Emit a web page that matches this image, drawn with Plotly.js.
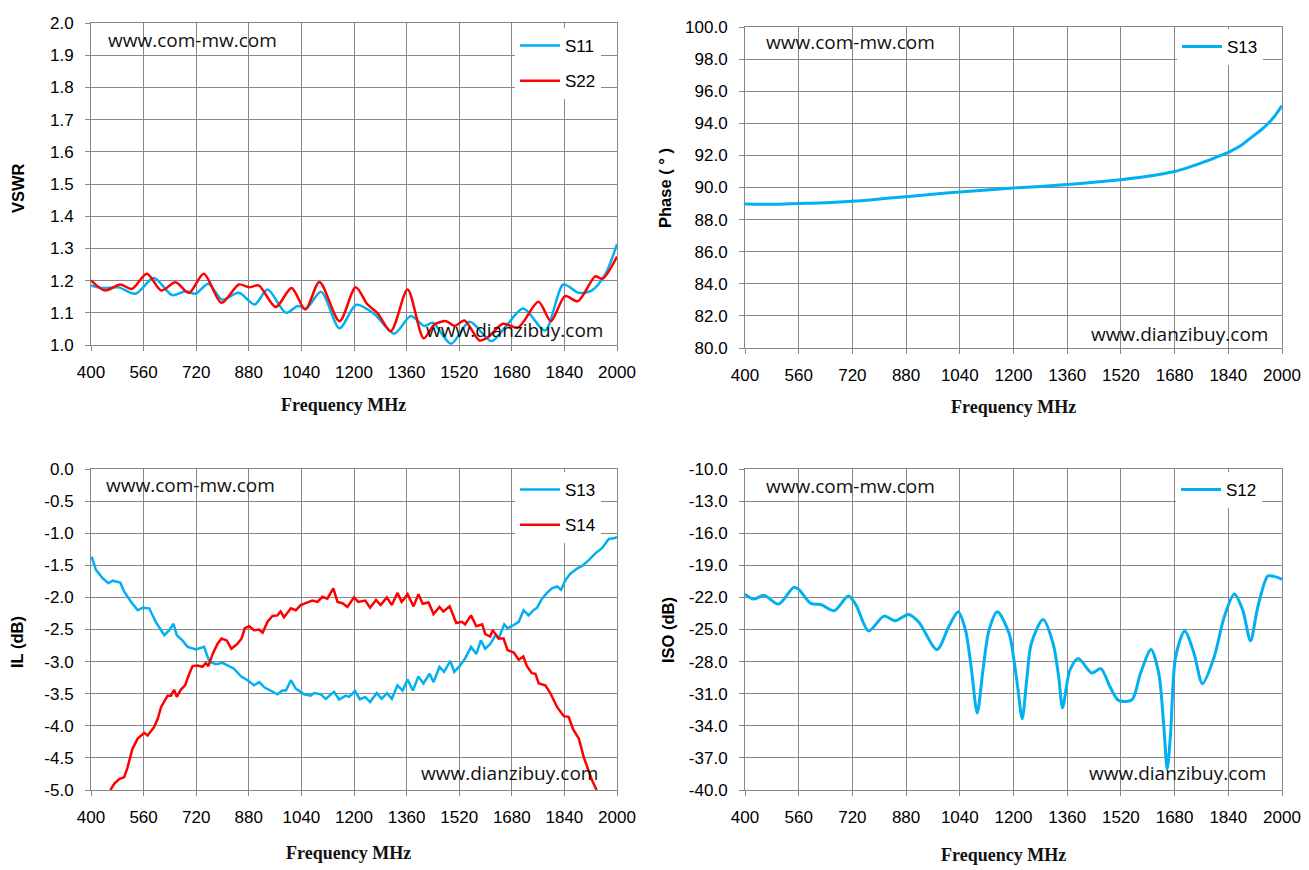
<!DOCTYPE html>
<html>
<head>
<meta charset="utf-8">
<script src="https://cdn.plot.ly/plotly-3.0.1.min.js"></script>
<style>
  html, body { margin: 0; padding: 0; background: #fff; }
  #chart { width: 1309px; height: 870px; }
</style>
</head>
<body>
<div id="chart"></div>
<script>
"use strict";

// VSWR (top left)
var vswrS11Freq = [400,433,484,535,591,647,687,718,757,799,850,898,937,993,1029,1054,1100,1156,1207,1261,1322,1373,1414,1440,1495,1552,1618,1659,1715,1781,1837,1883,1923,1964,2000]
var vswrS11 = [1.185,1.177,1.179,1.159,1.208,1.155,1.167,1.159,1.190,1.141,1.162,1.126,1.172,1.100,1.121,1.113,1.165,1.052,1.125,1.097,1.035,1.090,1.059,1.069,1.004,1.072,1.012,1.054,1.113,1.045,1.188,1.162,1.169,1.219,1.313]
var vswrS22Freq = [400,443,489,524,570,614,657,698,743,797,850,881,910,962,1010,1052,1095,1156,1205,1241,1271,1312,1363,1412,1445,1480,1506,1536,1582,1608,1653,1699,1761,1799,1842,1881,1934,1956,2000]
var vswrS22 = [1.201,1.169,1.188,1.174,1.221,1.169,1.195,1.162,1.221,1.131,1.188,1.179,1.185,1.118,1.177,1.110,1.196,1.074,1.179,1.126,1.100,1.043,1.172,1.021,1.064,1.074,1.059,1.076,1.014,1.025,1.066,1.054,1.134,1.074,1.152,1.136,1.213,1.206,1.275]

// Phase (top right)
var phaseFreq = [400,480,560,640,720,800,880,960,1040,1120,1200,1280,1360,1440,1520,1600,1680,1720,1760,1800,1840,1880,1900,1920,1940,1960,1980,2000]
var phaseS13 = [88.97,88.95,89.0,89.05,89.14,89.28,89.43,89.58,89.72,89.85,89.97,90.07,90.18,90.32,90.49,90.7,91.0,91.24,91.53,91.85,92.19,92.65,92.98,93.3,93.63,94.02,94.5,95.1]

// Insertion loss (bottom left)
var ilS13Freq = [402,415,435,453,466,489,501,522,542,557,577,597,623,638,651,661,678,694,719,744,760,780,800,815,835,856,876,896,912,927,947,967,982,993,1008,1023,1048,1068,1079,1099,1114,1139,1155,1175,1185,1203,1218,1234,1249,1269,1284,1300,1315,1332,1348,1363,1379,1396,1411,1430,1442,1460,1474,1493,1505,1523,1538,1556,1572,1586,1599,1614,1630,1640,1657,1667,1686,1701,1716,1731,1746,1757,1772,1787,1802,1818,1830,1843,1858,1879,1894,1914,1935,1955,1975,1990,2000]
var ilS13 = [-1.365,-1.57,-1.70,-1.78,-1.74,-1.77,-1.91,-2.07,-2.2,-2.16,-2.17,-2.38,-2.59,-2.51,-2.41,-2.59,-2.67,-2.77,-2.81,-2.77,-3.0,-3.04,-3.02,-3.06,-3.11,-3.23,-3.29,-3.37,-3.32,-3.40,-3.45,-3.51,-3.45,-3.45,-3.29,-3.42,-3.51,-3.53,-3.49,-3.51,-3.58,-3.47,-3.59,-3.53,-3.55,-3.46,-3.59,-3.55,-3.63,-3.49,-3.58,-3.49,-3.58,-3.37,-3.45,-3.28,-3.45,-3.23,-3.34,-3.19,-3.32,-3.08,-3.16,-2.99,-3.16,-3.06,-2.95,-2.77,-2.88,-2.67,-2.80,-2.73,-2.59,-2.64,-2.42,-2.48,-2.43,-2.38,-2.20,-2.28,-2.20,-2.16,-2.02,-1.93,-1.86,-1.83,-1.88,-1.73,-1.63,-1.55,-1.51,-1.42,-1.31,-1.23,-1.09,-1.08,-1.06]
var ilS14Freq = [459,471,486,501,511,526,542,562,572,592,603,613,633,643,653,661,673,686,699,709,724,739,749,757,770,785,797,813,827,846,858,868,881,896,911,922,937,952,967,977,987,1008,1023,1038,1053,1073,1089,1104,1119,1137,1150,1165,1180,1200,1213,1234,1249,1267,1281,1300,1315,1332,1345,1363,1381,1396,1409,1427,1442,1460,1472,1491,1511,1528,1538,1556,1572,1590,1599,1614,1622,1640,1655,1667,1686,1701,1715,1726,1741,1752,1762,1782,1797,1818,1838,1853,1866,1884,1899,1914,1924,1938]
var ilS14 = [-5.0,-4.9,-4.83,-4.80,-4.65,-4.36,-4.20,-4.11,-4.15,-4.02,-3.89,-3.71,-3.53,-3.53,-3.44,-3.55,-3.44,-3.37,-3.19,-3.07,-3.06,-3.08,-3.02,-3.07,-2.88,-2.72,-2.64,-2.67,-2.80,-2.72,-2.64,-2.48,-2.45,-2.51,-2.50,-2.55,-2.38,-2.29,-2.28,-2.22,-2.31,-2.17,-2.20,-2.12,-2.09,-2.05,-2.07,-1.99,-2.02,-1.86,-2.07,-2.09,-2.15,-2.0,-2.07,-2.05,-2.16,-2.04,-2.12,-2.0,-2.12,-1.93,-2.07,-1.95,-2.14,-1.95,-2.10,-2.08,-2.26,-2.15,-2.22,-2.14,-2.40,-2.38,-2.42,-2.28,-2.45,-2.42,-2.57,-2.61,-2.51,-2.64,-2.64,-2.82,-2.86,-2.97,-2.92,-3.07,-3.18,-3.19,-3.34,-3.37,-3.49,-3.71,-3.85,-3.86,-4.05,-4.20,-4.49,-4.70,-4.85,-5.0]

// Isolation (bottom right)
var isoFreq = [400,425,457,500,545,560,596,626,666,708,731,768,814,848,887,917,972,1007,1035,1057,1075,1092,1109,1127,1152,1187,1200,1213,1226,1240,1253,1288,1318,1335,1346,1368,1393,1433,1460,1488,1513,1553,1578,1610,1633,1648,1658,1668,1683,1710,1738,1763,1798,1828,1858,1883,1906,1928,1958,1978,2000]
var isoS12 = [-21.69,-22.16,-21.81,-22.63,-21.06,-21.25,-22.56,-22.66,-23.25,-21.88,-22.72,-25.13,-23.75,-24.19,-23.59,-24.28,-26.88,-24.75,-23.34,-25.06,-28.8,-32.81,-28.8,-25.06,-23.34,-25.38,-27.56,-30.5,-33.34,-29.5,-26.31,-24.06,-26.31,-29.5,-32.31,-28.81,-27.72,-29.06,-28.66,-30.38,-31.63,-31.56,-29.13,-26.88,-29.13,-34.13,-38.03,-34.75,-27.56,-25.13,-27.25,-30.06,-27.56,-23.81,-21.69,-23.19,-26.06,-22.88,-20.0,-20.06,-20.31]

// Tick labels
var freqTicks = [400,560,720,880,1040,1200,1360,1520,1680,1840,2000]
var vswrTicks = ["1.0","1.1","1.2","1.3","1.4","1.5","1.6","1.7","1.8","1.9","2.0"]
var phaseTicks = ["80.0","82.0","84.0","86.0","88.0","90.0","92.0","94.0","96.0","98.0","100.0"]
var ilTicks = ["-5.0","-4.5","-4.0","-3.5","-3.0","-2.5","-2.0","-1.5","-1.0","-0.5","0.0"]
var isoTicks = ["-40.0","-37.0","-34.0","-31.0","-28.0","-25.0","-22.0","-19.0","-16.0","-13.0","-10.0"]

var blue = "#00b0f0"
var red = "#ff0000"
var grid = "#878787"
var tickFont = { family: "Liberation Sans, Arial, sans-serif", size: 17, color: "#000" }
var markFont = { family: "Open Sans, sans-serif", size: 19, color: "#111" }
var xTitleFont = { family: "Liberation Serif, serif", size: 18, color: "#111" }
var yTitleFont = { family: "Liberation Sans, Arial, sans-serif", size: 16.5, color: "#000" }

var W = 1309, H = 870
function px(x){ return x / W }
function py(y){ return 1 - y / H }

/**
 * Shared frequency axis, 400..2000 MHz in 160 MHz steps.
 */
function freqAxis(x0, x1, anchor){
  return {
    domain: [px(x0), px(x1)], anchor: anchor,
    range: [400, 2000], tickmode: "array", tickvals: freqTicks,
    showgrid: true, gridcolor: grid, gridwidth: 1,
    showline: true, linecolor: grid, linewidth: 1, mirror: true,
    ticks: "outside", ticklen: 5, tickcolor: grid,
    ticklabelstandoff: 7,
    tickfont: tickFont, zeroline: false
  }
}

/**
 * Value axis with ten equal steps; labels come from the text array.
 */
function valueAxis(y0, y1, anchor, range, labels){
  var step = (range[1] - range[0]) / (labels.length - 1)
  var vals = labels.map(function(t, i){ return range[0] + i * step })
  return {
    domain: [py(y1), py(y0)], anchor: anchor,
    range: range, tickmode: "array", tickvals: vals, ticktext: labels,
    showgrid: true, gridcolor: grid, gridwidth: 1,
    showline: true, linecolor: grid, linewidth: 1, mirror: true,
    ticks: "outside", ticklen: 5, tickcolor: grid,
    ticklabelstandoff: 8,
    tickfont: tickFont, zeroline: false
  }
}

function line(x, y, name, color, xa, ya, legend, shape, width){
  return {
    x: x, y: y, name: name, type: "scatter", mode: "lines",
    xaxis: xa, yaxis: ya, legend: legend, legendgroup: name + legend,
    line: { color: color, width: width, shape: shape, smoothing: 0.8 }
  }
}

var traces = [
  line(vswrS11Freq, vswrS11, "S11", blue, "x", "y", "legend", "spline", 2.5),
  line(vswrS22Freq, vswrS22, "S22", red, "x", "y", "legend", "spline", 2.5),
  line(phaseFreq, phaseS13, "S13", blue, "x2", "y2", "legend2", "spline", 3),
  line(ilS13Freq, ilS13, "S13", blue, "x3", "y3", "legend3", "linear", 2.5),
  line(ilS14Freq, ilS14, "S14", red, "x3", "y3", "legend3", "linear", 2.5),
  line(isoFreq, isoS12, "S12", blue, "x4", "y4", "legend4", "spline", 3)
]

function legendAt(x, y){
  return {
    x: px(x), y: py(y), xanchor: "left", yanchor: "top",
    bgcolor: "#fff", borderwidth: 0, itemwidth: 40,
    tracegroupgap: 10, font: { family: "Liberation Sans, Arial, sans-serif", size: 17, color: "#000" }
  }
}

function note(text, x, y, font, angle, anchor){
  return {
    text: text, xref: "paper", yref: "paper", x: px(x), y: py(y),
    xanchor: anchor || "left", yanchor: "middle", showarrow: false,
    font: font, textangle: angle || 0
  }
}

var bold = function(t){ return "<b>" + t + "</b>" }

var annotations = [
  note("www.com-mw.com", 106, 40, markFont),
  note("www.dianzibuy.com", 424, 330, markFont),
  note("www.com-mw.com", 764, 42, markFont),
  note("www.dianzibuy.com", 1089, 334, markFont),
  note("www.com-mw.com", 104, 485, markFont),
  note("www.dianzibuy.com", 419, 773, markFont),
  note("www.com-mw.com", 764, 486, markFont),
  note("www.dianzibuy.com", 1087, 773, markFont),

  note(bold("Frequency MHz"), 343, 405, xTitleFont, 0, "center"),
  note(bold("Frequency MHz"), 1013, 407, xTitleFont, 0, "center"),
  note(bold("Frequency MHz"), 348, 853, xTitleFont, 0, "center"),
  note(bold("Frequency MHz"), 1003, 855, xTitleFont, 0, "center"),

  note(bold("VSWR"), 18, 188, yTitleFont, -90, "center"),
  note(bold("Phase ( ° )"), 665, 188, yTitleFont, -90, "center"),
  note(bold("IL (dB)"), 17, 642, yTitleFont, -90, "center"),
  note(bold("ISO (dB)"), 668, 630, yTitleFont, -90, "center")
]

var layout = {
  width: W, height: H,
  margin: { l: 0, r: 0, t: 0, b: 0 },
  paper_bgcolor: "#fff", plot_bgcolor: "#fff",
  showlegend: true,
  xaxis: freqAxis(91, 617, "y"),
  yaxis: valueAxis(23, 345, "x", [1, 2], vswrTicks),
  xaxis2: freqAxis(745, 1282, "y2"),
  yaxis2: valueAxis(27, 348, "x2", [80, 100], phaseTicks),
  xaxis3: freqAxis(91, 617, "y3"),
  yaxis3: valueAxis(469, 790, "x3", [-5, 0], ilTicks),
  xaxis4: freqAxis(745, 1282, "y4"),
  yaxis4: valueAxis(469, 790, "x4", [-40, -10], isoTicks),
  legend: legendAt(515, 28),
  legend2: legendAt(1177, 29),
  legend3: legendAt(515, 472),
  legend4: legendAt(1176, 472),
  annotations: annotations
}

Plotly.newPlot("chart", traces, layout, { displayModeBar: false, staticPlot: true })
</script>
</body>
</html>
